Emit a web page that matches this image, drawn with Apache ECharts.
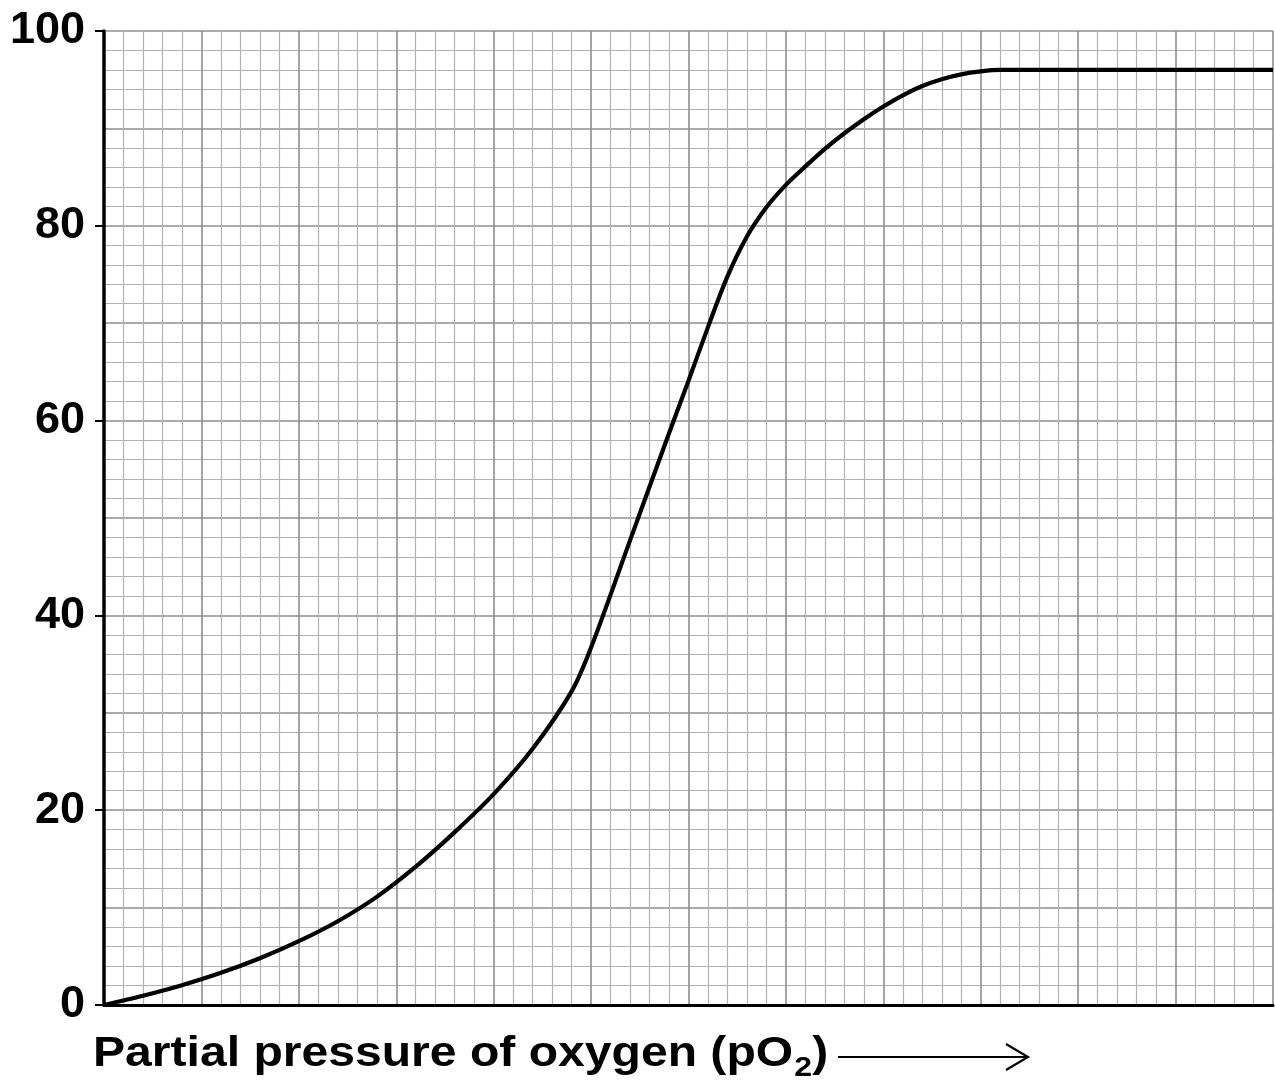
<!DOCTYPE html>
<html>
<head>
<meta charset="utf-8">
<script src="https://cdn.jsdelivr.net/npm/echarts@6/dist/echarts.min.js"></script>
<style>
html,body{margin:0;padding:0;background:#fff;}
#c{width:1275px;height:1086px;}
</style>
</head>
<body>
<div id="c"></div>
<script>
// x in small-square units (0..60, 5 small squares per big square); y = % saturation
const pO2 = [0, 2, 4, 6, 8, 10, 12, 14, 16, 18, 20, 22, 24, 25, 27, 29, 30, 31, 32, 33, 34, 35, 36, 37, 38, 39, 40, 41, 42, 43, 44, 45, 46, 47, 60];
const saturation = [0, 0.95, 2.03, 3.3, 4.8, 6.55, 8.6, 11.1, 14.2, 17.75, 21.65, 26.3, 32.2, 36.7, 47.7, 58.7, 64.1, 69.6, 74.8, 78.9, 81.9, 84.2, 86.1, 87.9, 89.5, 90.95, 92.25, 93.4, 94.35, 95.05, 95.55, 95.85, 96.0, 96.0, 96.0];
const yTickLabels = [0, 20, 40, 60, 80, 100];
const xTitle = 'Partial pressure of oxygen (pO';

const points = pO2.map((x, i) => [x, saturation[i]]);
const chart = echarts.init(document.getElementById('c'), null, {renderer: 'canvas'});
const font = '"Liberation Sans", Arial, sans-serif';

chart.setOption({
  animation: false,
  backgroundColor: '#fff',
  grid: {left: 104, top: 31, right: 2, bottom: 81, containLabel: false},
  xAxis: [{
    type: 'value', min: 0, max: 60, interval: 5,
    axisLine: {show: true, onZero: false, lineStyle: {color: '#000', width: 3}},
    axisTick: {show: false}, axisLabel: {show: false},
    splitLine: {show: true, lineStyle: {color: '#8f8f8f', width: 1.6}},
    minorTick: {show: false, splitNumber: 5},
    minorSplitLine: {show: true, lineStyle: {color: '#b2b2b2', width: 1.2}}
  }],
  yAxis: [{
    type: 'value', min: 0, max: 100, interval: 10, position: 'left',
    axisLine: {show: false}, axisTick: {show: false}, axisLabel: {show: false},
    splitLine: {show: true, lineStyle: {color: '#8f8f8f', width: 1.6}},
    minorTick: {show: false, splitNumber: 5},
    minorSplitLine: {show: true, lineStyle: {color: '#b2b2b2', width: 1.2}}
  }, {
    type: 'value', min: yTickLabels[0], max: yTickLabels[yTickLabels.length - 1],
    interval: yTickLabels[1] - yTickLabels[0], position: 'left', offset: 0,
    axisLine: {show: true, onZero: false, lineStyle: {color: '#000', width: 3.5}},
    axisTick: {show: true, inside: false, length: 9, lineStyle: {color: '#000', width: 2}},
    axisLabel: {show: true, margin: 19, color: '#000', fontSize: 45, fontWeight: 'bold', fontFamily: font},
    splitLine: {show: false}
  }],
  series: [{
    type: 'line', xAxisIndex: 0, yAxisIndex: 0,
    data: points, smooth: 0.3,
    showSymbol: false, symbol: 'none',
    lineStyle: {color: '#000', width: 4.2},
    z: 10
  }],
  graphic: [{
    type: 'text', x: 93, y: 1033, scaleX: 1.145, scaleY: 1,
    style: {
      text: '{a|' + xTitle + '}{s|2}{a|)}',
      rich: {
        a: {fontSize: 42, fontWeight: 'bold', fontFamily: font, fill: '#000', verticalAlign: 'top', lineHeight: 48},
        s: {fontSize: 28, fontWeight: 'bold', fontFamily: font, fill: '#000', padding: [22, 0, 0, 1], lineHeight: 48}
      }
    }
  }, {
    type: 'line', shape: {x1: 838, y1: 1057, x2: 1027, y2: 1057},
    style: {stroke: '#000', lineWidth: 2}
  }, {
    type: 'polyline', shape: {points: [[1006, 1044], [1028, 1057], [1006, 1070]]},
    style: {stroke: '#000', lineWidth: 2.2, fill: null}
  }]
});
</script>
</body>
</html>
